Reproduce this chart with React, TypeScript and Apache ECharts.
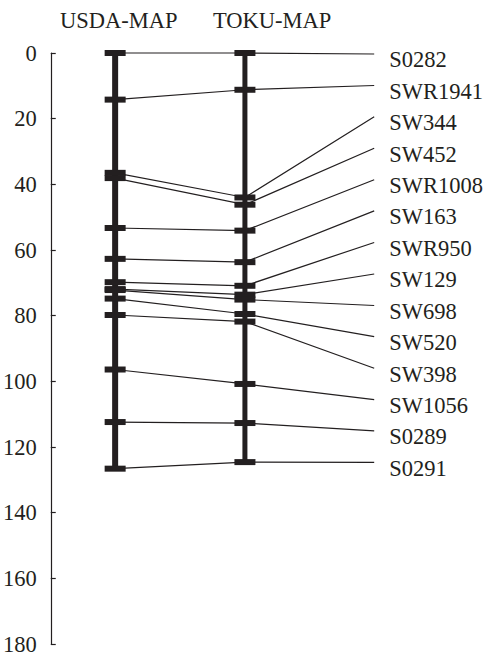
import React, { useEffect, useRef } from "react";
import * as echarts from "echarts";

// Marker names (right-hand labels, top to bottom)
const markers = [
  "S0282", "SWR1941", "SW344", "SW452", "SWR1008", "SW163", "SWR950",
  "SW129", "SW698", "SW520", "SW398", "SW1056", "S0289", "S0291",
];
// Positions (cM) on the USDA map
const usdaPos = [0, 14.2, 36.5, 38.1, 53.3, 62.7, 69.8, 71.9, 72.2, 74.8, 79.8, 96.4, 112.4, 126.6];
// Positions (cM) on the TOKU map
const tokuPos = [0, 11.2, 44.0, 46.2, 54.1, 63.7, 70.9, 73.6, 75.1, 79.5, 81.8, 100.8, 112.7, 124.6];
// Evenly spaced label anchor positions (axis units)
const labelPos = [0.3, 9.9, 19.4, 29.0, 38.6, 48.1, 57.7, 67.3, 76.9, 86.4, 96.0, 105.6, 115.1, 124.7];
const mapNames = ["USDA-MAP", "TOKU-MAP"];
const yMin = 0;
const yMax = 180;
const yInterval = 20;

const INK = "#231f20";
const FONT = "Liberation Serif";
const FSIZE = 22.5;
// layout (grid x units = pixels inside grid)
const X_USDA = 64.5;
const X_TOKU = 194.5;
const X_END = 324;
const X_TEXT = 339;

export default function App() {
  const ref = useRef<HTMLDivElement>(null);
  useEffect(() => {
    if (!ref.current) return;
    const chart = echarts.init(ref.current, undefined, { renderer: "svg" });
    const linkData = markers.map((m, i) => [usdaPos[i], tokuPos[i], labelPos[i], i]);
    const textStyle = (text: string) => ({
      text,
      fontFamily: FONT,
      fontSize: FSIZE,
      fill: INK,
      align: "left",
      verticalAlign: "middle",
      textAlign: "left",
      textVerticalAlign: "middle",
    });
    const option: any = {
      animation: false,
      backgroundColor: "#ffffff",
      textStyle: { fontFamily: FONT },
      grid: { left: 50, top: 53, width: 437, height: 591, containLabel: false },
      xAxis: { type: "value", min: 0, max: 437, show: false },
      yAxis: {
        type: "value",
        inverse: true,
        min: yMin,
        max: yMax,
        interval: yInterval,
        position: "left",
        axisLine: { show: true, lineStyle: { color: INK, width: 1.2 } },
        axisTick: { show: true, inside: true, length: 5, lineStyle: { color: INK, width: 1.2 } },
        splitLine: { show: false },
        axisLabel: {
          color: INK,
          fontFamily: FONT,
          fontSize: FSIZE,
          margin: 14,
          verticalAlign: "middle",
          padding: [12, 0, 0, 0],
        },
      },
      graphic: [
        { type: "text", x: 60, y: 20, style: textStyle(mapNames[0]) },
        { type: "text", x: 213, y: 20, style: textStyle(mapNames[1]) },
      ],
      series: [
        {
          type: "custom",
          coordinateSystem: "cartesian2d",
          z: 1,
          data: linkData,
          encode: { x: 3, y: 2 },
          renderItem: (params: any, api: any) => {
            const i = api.value(3);
            const p1 = api.coord([X_USDA, api.value(0)]);
            const p2 = api.coord([X_TOKU, api.value(1)]);
            const p3 = api.coord([X_END, api.value(2)]);
            const pt = api.coord([X_TEXT, api.value(2)]);
            return {
              type: "group",
              children: [
                {
                  type: "polyline",
                  shape: { points: [p1, p2, p3] },
                  style: { stroke: INK, lineWidth: 1.2, fill: null },
                },
                {
                  type: "text",
                  x: pt[0],
                  y: pt[1] + 6,
                  style: textStyle(markers[i]),
                },
              ],
            };
          },
        },
        {
          type: "line",
          z: 2,
          symbol: "none",
          data: [[X_USDA, usdaPos[0]], [X_USDA, usdaPos[usdaPos.length - 1]]],
          lineStyle: { color: INK, width: 6 },
        },
        {
          type: "line",
          z: 2,
          symbol: "none",
          data: [[X_TOKU, tokuPos[0]], [X_TOKU, tokuPos[tokuPos.length - 1]]],
          lineStyle: { color: INK, width: 5 },
        },
        {
          type: "scatter",
          z: 3,
          symbol: "rect",
          symbolSize: [21, 6],
          itemStyle: { color: INK, opacity: 1 },
          data: usdaPos.map((v) => [X_USDA, v]),
        },
        {
          type: "scatter",
          z: 3,
          symbol: "rect",
          symbolSize: [21, 6],
          itemStyle: { color: INK, opacity: 1 },
          data: tokuPos.map((v) => [X_TOKU, v]),
        },
      ],
    };
    chart.setOption(option);
    return () => chart.dispose();
  }, []);
  return (
    <div
      ref={ref}
      style={{ position: "fixed", left: 0, top: 0, width: 487, height: 664, background: "#fff" }}
    />
  );
}
